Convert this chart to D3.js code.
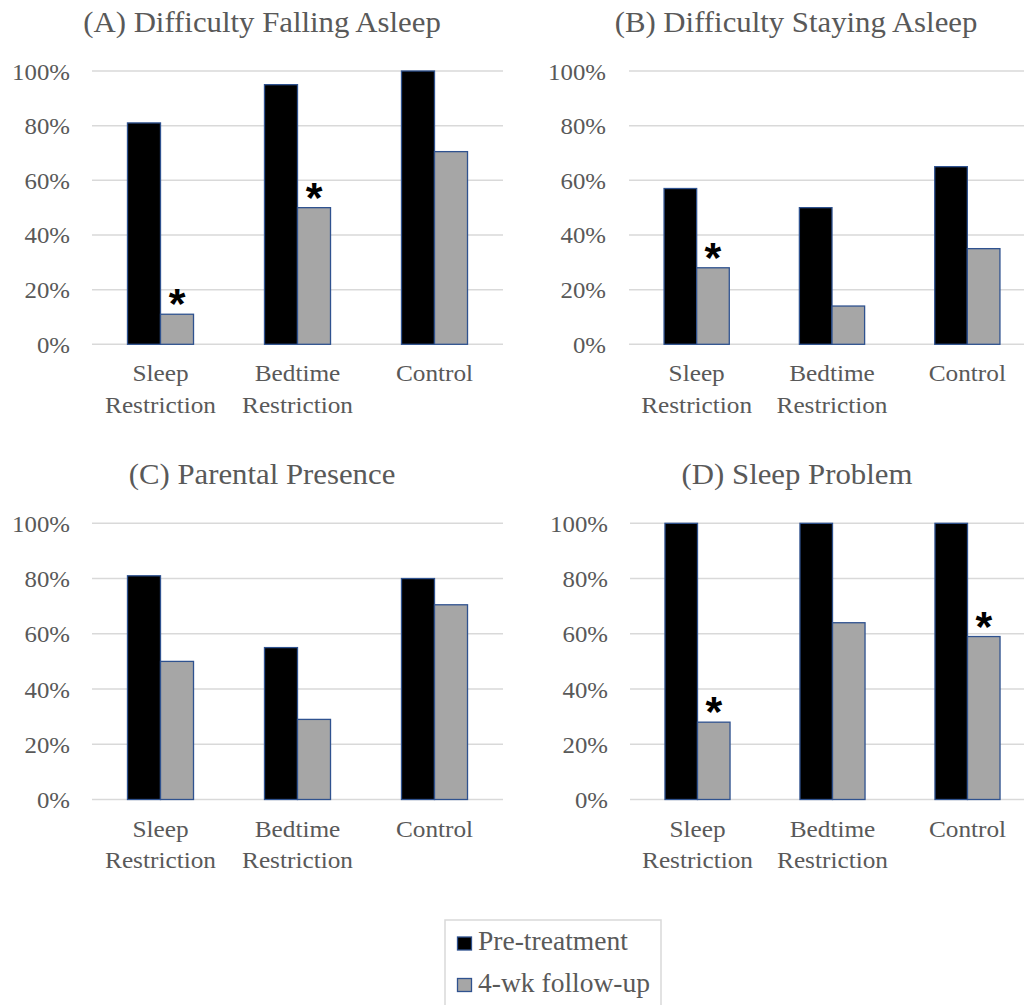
<!DOCTYPE html>
<html>
<head>
<meta charset="utf-8">
<script src="https://cdn.jsdelivr.net/npm/d3@7"></script>
<style>
  html, body { margin: 0; padding: 0; background: #ffffff; }
  svg { display: block; }
</style>
</head>
<body>
<svg id="chart" width="1024" height="1005"></svg>
<script>
// ---- data ----
const categories = ["Sleep Restriction", "Bedtime Restriction", "Control"];
const categoryLines = [["Sleep", "Restriction"], ["Bedtime", "Restriction"], ["Control"]];
const seriesNames = ["Pre-treatment", "4-wk follow-up"];
const panelTitles = [
  "(A) Difficulty Falling Asleep",
  "(B) Difficulty Staying Asleep",
  "(C) Parental Presence",
  "(D) Sleep Problem"
];
const yTicks = [0, 20, 40, 60, 80, 100];

// percent of children, per category
const preA = [81, 95, 100];
const postA = [11, 50, 70.5];
const preB = [57, 50, 65];
const postB = [28, 14, 35];
const preC = [81, 55, 80];
const postC = [50, 29, 70.5];
const preD = [100, 100, 100];
const postD = [28, 64, 59];

// significant change at follow-up (asterisk above follow-up bar)
const sigA = [true, true, false];
const sigB = [true, false, false];
const sigC = [false, false, false];
const sigD = [true, false, true];

// ---- layout ----
const panels = [
  { pre: preA, post: postA, sig: sigA, x0: 92,  x1: 503,  y0: 71,    y1: 344.3, tx: 262, ty: 31.5,  tickRight: 70 },
  { pre: preB, post: postB, sig: sigB, x0: 629, x1: 1035, y0: 71,    y1: 344.3, tx: 796, ty: 31.5,  tickRight: 606 },
  { pre: preC, post: postC, sig: sigC, x0: 92,  x1: 503,  y0: 523.3, y1: 799.5, tx: 262, ty: 483.5, tickRight: 70 },
  { pre: preD, post: postD, sig: sigD, x0: 630, x1: 1035, y0: 523.3, y1: 799.5, tx: 797, ty: 483.5, tickRight: 608 }
];

const TEXT = "#595959";
const GRID = "#d9d9d9";
const FILLS = ["#000000", "#a6a6a6"];
const OUTLINE = "#2f528f";
const SERIF = "'Liberation Serif', 'Times New Roman', serif";

const svg = d3.select("#chart");

// text stretched slightly horizontally, like the original typesetting
function stretchedText(g, x, y, str, size, sx, anchor) {
  return g.append("text")
    .attr("transform", `translate(${x},${y}) scale(${sx},1)`)
    .attr("text-anchor", anchor)
    .attr("font-family", SERIF)
    .attr("font-size", size)
    .attr("fill", TEXT)
    .text(str);
}

panels.forEach((p, i) => {
  const g = svg.append("g");

  const x = d3.scaleBand().domain(categories).range([p.x0, p.x1])
    .paddingInner(0.518).paddingOuter(0.259);
  const xs = d3.scaleBand().domain(seriesNames).range([0, x.bandwidth()]);
  const y = d3.scaleLinear().domain([0, 100]).range([p.y1, p.y0]);

  // title
  stretchedText(g, p.tx, p.ty, panelTitles[i], 28.5, 1.08, "middle");

  // gridlines
  g.selectAll("line.grid").data(yTicks).join("line")
    .attr("class", "grid")
    .attr("x1", p.x0).attr("x2", p.x1)
    .attr("y1", d => y(d)).attr("y2", d => y(d))
    .attr("stroke", GRID).attr("stroke-width", 1.5);

  // y tick labels
  yTicks.forEach(t => {
    stretchedText(g, p.tickRight, y(t) + 8.5, t + "%", 23, 1.08, "end");
  });

  // bars
  const rows = [];
  categories.forEach((c, ci) => {
    rows.push({ cat: c, s: 0, v: p.pre[ci] });
    rows.push({ cat: c, s: 1, v: p.post[ci], sig: p.sig[ci] });
  });

  g.selectAll("rect.bar").data(rows).join("rect")
    .attr("class", "bar")
    .attr("x", d => x(d.cat) + xs(seriesNames[d.s]))
    .attr("width", xs.bandwidth())
    .attr("y", d => y(d.v))
    .attr("height", d => y(0) - y(d.v))
    .attr("fill", d => FILLS[d.s])
    .attr("stroke", OUTLINE)
    .attr("stroke-width", 1.3);

  // significance markers
  g.selectAll("text.sig").data(rows.filter(d => d.sig)).join("text")
    .attr("class", "sig")
    .attr("x", d => x(d.cat) + xs(seriesNames[1]) + xs.bandwidth() / 2)
    .attr("y", d => y(d.v) + 4)
    .attr("text-anchor", "middle")
    .attr("font-family", "'Liberation Sans', Arial, sans-serif")
    .attr("font-weight", "bold")
    .attr("font-size", 43)
    .attr("fill", "#000")
    .text("*");

  // category labels
  categories.forEach((c, ci) => {
    const cx = x(c) + x.bandwidth() / 2;
    categoryLines[ci].forEach((line, li) => {
      stretchedText(g, cx, p.y1 + 37 + li * 31.5, line, 23, 1.1, "middle");
    });
  });
});

// ---- legend ----
const legend = svg.append("g");
legend.append("rect")
  .attr("x", 445).attr("y", 920).attr("width", 216).attr("height", 100)
  .attr("fill", "#fff").attr("stroke", GRID).attr("stroke-width", 1.5);

seriesNames.forEach((s, i) => {
  const yy = 937 + i * 41.5;
  legend.append("rect")
    .attr("x", 457.5).attr("y", yy).attr("width", 14).attr("height", 13)
    .attr("fill", FILLS[i]).attr("stroke", OUTLINE).attr("stroke-width", 1.3);
  stretchedText(legend, 478, yy + 13, s, 27, 1.02, "start");
});
</script>
</body>
</html>
